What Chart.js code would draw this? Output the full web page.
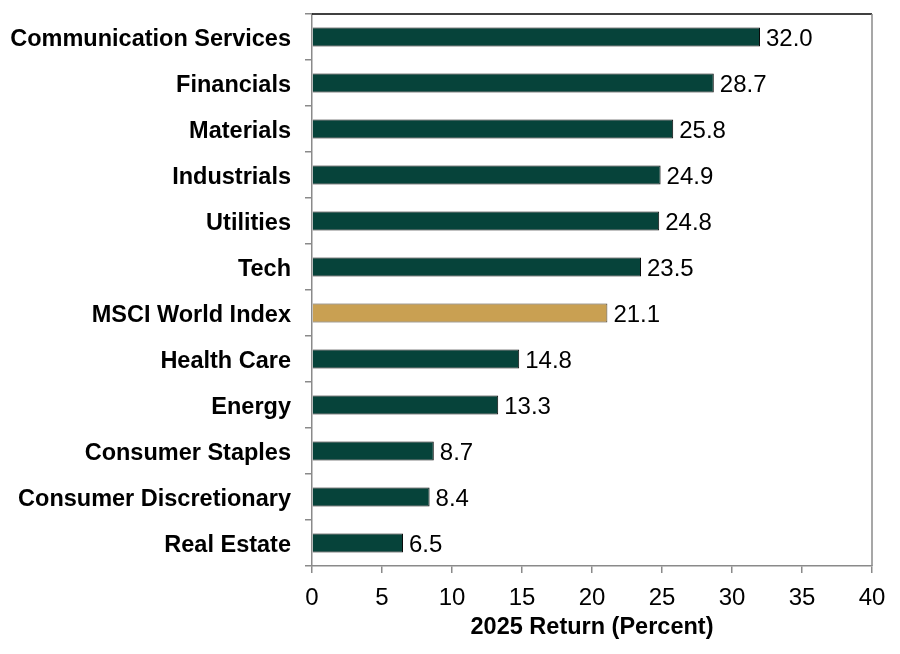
<!DOCTYPE html>
<html>
<head>
<meta charset="utf-8">
<script src="https://cdn.jsdelivr.net/npm/chart.js@4.4.1/dist/chart.umd.min.js"></script>
<style>
  html, body { margin: 0; padding: 0; background: #fff; }
  #wrap { width: 900px; height: 654px; }
</style>
</head>
<body>
<div id="wrap"><canvas id="sector-chart"></canvas></div>
<script>
const sectors = [
  "Communication Services",
  "Financials",
  "Materials",
  "Industrials",
  "Utilities",
  "Tech",
  "MSCI World Index",
  "Health Care",
  "Energy",
  "Consumer Staples",
  "Consumer Discretionary",
  "Real Estate",
];
const returns2025 = [32.0, 28.7, 25.8, 24.9, 24.8, 23.5, 21.1, 14.8, 13.3, 8.7, 8.4, 6.5];
const xTicks = [0, 5, 10, 15, 20, 25, 30, 35, 40];

const green = "#06433A";
const gold = "#C9A052";
const barColors = sectors.map((s) => (s === "MSCI World Index" ? gold : green));
const borderColors = sectors.map((s) => (s === "MSCI World Index" ? "#4a4030" : "#0a0a0a"));

Chart.defaults.font.family = "'Liberation Sans', Arial, sans-serif";
Chart.defaults.color = "#000";

// value labels at bar ends
const valueLabels = {
  id: "valueLabels",
  afterDatasetsDraw(chart) {
    const ctx = chart.ctx;
    const meta = chart.getDatasetMeta(0);
    ctx.save();
    ctx.font = "24px 'Liberation Sans', Arial, sans-serif";
    ctx.fillStyle = "#000";
    ctx.textAlign = "left";
    ctx.textBaseline = "middle";
    meta.data.forEach((bar, i) => {
      ctx.fillText(returns2025[i].toFixed(1), bar.x + 6, bar.y + 2);
    });
    ctx.restore();
  },
};

// black top border, gray right border
const frame = {
  id: "frame",
  afterDraw(chart) {
    const { ctx, chartArea: a } = chart;
    ctx.save();
    ctx.lineWidth = 1.5;
    ctx.strokeStyle = "#000";
    ctx.beginPath();
    ctx.moveTo(a.left, a.top);
    ctx.lineTo(a.right, a.top);
    ctx.stroke();
    ctx.strokeStyle = "#8a8a8a";
    ctx.beginPath();
    ctx.moveTo(a.right, a.top);
    ctx.lineTo(a.right, a.bottom);
    ctx.stroke();
    ctx.restore();
  },
};

const chart = new Chart(document.getElementById("sector-chart").getContext("2d"), {
  type: "bar",
  data: {
    labels: sectors,
    datasets: [
      {
        data: returns2025,
        backgroundColor: barColors,
        borderColor: borderColors,
        borderWidth: 1,
        barPercentage: 0.41,
        categoryPercentage: 1,
      },
    ],
  },
  options: {
    indexAxis: "y",
    responsive: true,
    maintainAspectRatio: false,
    animation: false,
    layout: { padding: { top: 14, right: 28, left: 0, bottom: 0 } },
    plugins: {
      legend: { display: false },
      tooltip: { enabled: false },
    },
    scales: {
      x: {
        min: 0,
        max: 40,
        afterBuildTicks: (scale) => {
          scale.ticks = xTicks.map((v) => ({ value: v }));
        },
        afterFit: (scale) => {
          scale.height = 88;
          scale.paddingLeft = 0;
          scale.paddingRight = 0;
        },
        border: { color: "#8a8a8a", width: 1.5 },
        grid: { drawOnChartArea: false, tickLength: 7, color: "#8a8a8a", lineWidth: 1.5 },
        ticks: { font: { size: 24 }, color: "#000", padding: 11 },
        title: {
          display: true,
          text: "2025 Return (Percent)",
          font: { size: 23.5, weight: "bold" },
          color: "#000",
          padding: { top: 2, bottom: 12 },
        },
      },
      y: {
        afterFit: (scale) => {
          scale.width = 312;
          scale.paddingTop = 0;
          scale.paddingBottom = 0;
        },
        border: { color: "#8a8a8a", width: 1.5 },
        grid: { offset: true, drawOnChartArea: false, tickLength: 7, color: "#8a8a8a", lineWidth: 1.5 },
        ticks: { font: { size: 23.5, weight: "bold" }, color: "#000", padding: 14, labelOffset: 3 },
      },
    },
  },
  plugins: [valueLabels, frame],
});
</script>
</body>
</html>
